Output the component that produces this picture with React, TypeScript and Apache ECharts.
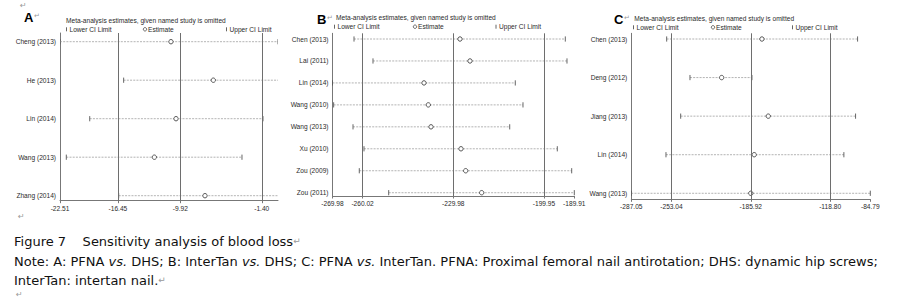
import React, { useEffect, useRef } from "react";
import * as echarts from "echarts";

// ---------- Panel A: PFNA vs. DHS ----------
const studiesA = ["Cheng (2013)", "He (2013)", "Lin (2014)", "Wang (2013)", "Zhang (2014)"];
const lowerA = [-22.51, -15.85, -19.4, -21.85, -16.37];
const estimateA = [-10.9, -6.47, -10.37, -12.64, -7.34];
const upperA = [0.3, 1.6, -1.27, -3.47, 1.4];
const pooledA = [-16.45, -9.92, -1.4]; // lower CI, estimate, upper CI
const ticksA = [-22.51, -16.45, -9.92, -1.4];
const rangeA = [-22.51, 0.3];

// ---------- Panel B: InterTan vs. DHS ----------
const studiesB = ["Chen (2013)", "Lai (2011)", "Lin (2014)", "Wang (2010)", "Wang (2013)", "Xu (2010)", "Zou (2009)", "Zou (2011)"];
const lowerB = [-262.86, -256.57, -269.98, -269.6, -263.19, -259.55, -261.11, -251.37];
const estimateB = [-227.76, -224.45, -239.68, -238.26, -237.36, -227.43, -225.87, -220.58];
const upperB = [-192.89, -192.33, -209.45, -206.9, -211.3, -195.54, -190.77, -189.91];
const pooledB = [-260.02, -229.98, -199.95];
const ticksB = [-269.98, -260.02, -229.98, -199.95, -189.91];
const rangeB = [-269.98, -189.91];

// ---------- Panel C: PFNA vs. InterTan ----------
const studiesC = ["Chen (2013)", "Deng (2012)", "Jiang (2013)", "Lin (2014)", "Wang (2013)"];
const lowerC = [-257.11, -237.4, -245.26, -257.7, -287.05];
const estimateC = [-176.49, -210.58, -171.15, -183.05, -185.92];
const upperC = [-95.55, -184.95, -97.25, -107.15, -84.79];
const pooledC = [-253.04, -185.92, -118.8];
const ticksC = [-287.05, -253.04, -185.92, -118.8, -84.79];
const rangeC = [-287.05, -84.79];

const panelTitle = "Meta-analysis estimates, given named study is omitted";
const legendLabels = ["Lower CI Limit", "Estimate", "Upper CI Limit"];
const captionTitle = "Figure 7    Sensitivity analysis of blood loss";
const captionNote =
  "Note: A: PFNA {i|vs.} DHS; B: InterTan {i|vs.} DHS; C: PFNA {i|vs.} InterTan. PFNA: Proximal femoral nail antirotation; DHS: dynamic hip screws;";
const captionNote2 = "InterTan: intertan nail.";
const MARK = "\u21b5";

const FONT = "'Liberation Sans', Arial, Helvetica, sans-serif";
const INK = "#2a2a2a";

const panels = [
  {
    letter: "A", studies: studiesA, lower: lowerA, est: estimateA, upper: upperA,
    pooled: pooledA, ticks: ticksA, range: rangeA,
    grid: { left: 60, top: 33, width: 218, height: 167.7 }, yPad: [-0.226, 4.13],
    head: { lx: 24, ly: 17.5, tx: 66, ty: 20.7, gy: 29.3, g: [66.5, 145, 226.5] },
  },
  {
    letter: "B", studies: studiesB, lower: lowerB, est: estimateB, upper: upperB,
    pooled: pooledB, ticks: ticksB, range: rangeB,
    grid: { left: 332.5, top: 33.3, width: 241.8, height: 162.7 }, yPad: [-0.26, 7.15],
    head: { lx: 317, ly: 19.3, tx: 336, ty: 17.3, gy: 26.7, g: [334.5, 415, 496] },
  },
  {
    letter: "C", studies: studiesC, lower: lowerC, est: estimateC, upper: upperC,
    pooled: pooledC, ticks: ticksC, range: rangeC,
    grid: { left: 631.3, top: 33.3, width: 239, height: 166 }, yPad: [-0.148, 4.156],
    head: { lx: 614, ly: 19.3, tx: 634.3, ty: 18.3, gy: 27.3, g: [633.5, 713, 792.5] },
  },
];

const renderForest = (_params: any, api: any) => {
  const y = api.value(0);
  const lo = api.coord([api.value(1), y]);
  const es = api.coord([api.value(2), y]);
  const hi = api.coord([api.value(3), y]);
  const h = 2.6;
  return {
    type: "group",
    children: [
      { type: "line", shape: { x1: lo[0], y1: lo[1], x2: hi[0], y2: hi[1] }, style: { stroke: "#a0a0a0", lineWidth: 0.8, lineDash: [2, 1.2] } },
      { type: "line", shape: { x1: lo[0], y1: lo[1] - h, x2: lo[0], y2: lo[1] + h }, style: { stroke: "#555", lineWidth: 0.9 } },
      { type: "line", shape: { x1: hi[0], y1: hi[1] - h, x2: hi[0], y2: hi[1] + h }, style: { stroke: "#555", lineWidth: 0.9 } },
      { type: "circle", shape: { cx: es[0], cy: es[1], r: 2.2 }, style: { fill: "#fff", stroke: "#444", lineWidth: 0.9 } },
    ],
  };
};

function headerGraphics(p: any) {
  const h = p.head;
  const small = { fill: INK, font: `6.6px ${FONT}`, textVerticalAlign: "middle" };
  const els: any[] = [
    { type: "text", x: h.lx, y: h.ly, style: { text: p.letter, fill: "#000", font: `bold 13px ${FONT}`, textVerticalAlign: "middle" } },
    { type: "text", x: h.lx + 10, y: h.ly - 1.5, style: { text: MARK, fill: "#999", font: `7px 'DejaVu Sans', sans-serif`, textVerticalAlign: "middle" } },
    { type: "text", x: h.tx, y: h.ty, style: { ...small, text: panelTitle } },
    { type: "line", shape: { x1: h.g[0], y1: h.gy - 2, x2: h.g[0], y2: h.gy + 2 }, style: { stroke: "#555", lineWidth: 0.9 } },
    { type: "text", x: h.g[0] + 3, y: h.gy, style: { ...small, text: legendLabels[0] } },
    { type: "circle", shape: { cx: h.g[1], cy: h.gy, r: 1.7 }, style: { fill: "#fff", stroke: "#444", lineWidth: 0.8 } },
    { type: "text", x: h.g[1] + 3, y: h.gy, style: { ...small, text: legendLabels[1] } },
    { type: "line", shape: { x1: h.g[2], y1: h.gy - 2, x2: h.g[2], y2: h.gy + 2 }, style: { stroke: "#555", lineWidth: 0.9 } },
    { type: "text", x: h.g[2] + 3, y: h.gy, style: { ...small, text: legendLabels[2] } },
  ];
  return els;
}

export default function App() {
  const ref = useRef<HTMLDivElement>(null);
  useEffect(() => {
    if (!ref.current) return;
    const chart = echarts.init(ref.current, undefined, { renderer: "svg" });
    const capFont = `13px 'DejaVu Sans', sans-serif`;
    const markStyle = { fill: "#999", font: `8px 'DejaVu Sans', sans-serif` };
    const option: any = {
      animation: false,
      backgroundColor: "#fff",
      grid: panels.map((p) => ({ ...p.grid, containLabel: false })),
      xAxis: panels.map((p, i) => ({
        type: "value",
        gridIndex: i,
        position: "bottom",
        min: p.range[0],
        max: p.range[1],
        axisLine: { show: true, onZero: false, lineStyle: { color: "#777", width: 1 } },
        axisTick: { show: true, customValues: p.ticks, length: 2.5, lineStyle: { color: "#777" } },
        axisLabel: { customValues: p.ticks, formatter: (v: number) => v.toFixed(2), fontSize: 6.6, color: INK, fontFamily: FONT, margin: 4, hideOverlap: false },
        splitLine: { show: false },
      })),
      yAxis: panels.map((p, i) => ({
        type: "value",
        gridIndex: i,
        position: "left",
        inverse: true,
        min: p.yPad[0],
        max: p.yPad[1],
        axisLine: { show: true, onZero: false, lineStyle: { color: "#777", width: 1 } },
        axisTick: { show: false },
        axisLabel: {
          customValues: p.studies.map((_: string, k: number) => k),
          formatter: (v: number) => p.studies[Math.round(v)] ?? "",
          fontSize: 6.6,
          color: INK,
          fontFamily: FONT,
          margin: 4,
        },
        splitLine: { show: false },
      })),
      series: panels.map((p, i) => ({
        type: "custom",
        name: p.letter,
        xAxisIndex: i,
        yAxisIndex: i,
        clip: true,
        renderItem: renderForest,
        encode: { x: [1, 2, 3], y: 0 },
        data: p.studies.map((_: string, k: number) => [k, p.lower[k], p.est[k], p.upper[k]]),
        markLine: {
          silent: true,
          symbol: ["none", "none"],
          label: { show: false },
          lineStyle: { color: "#6e6e6e", type: "solid", width: 1 },
          data: p.pooled.map((v: number) => ({ xAxis: v })),
        },
        z: 2,
      })),
      graphic: [
        { type: "text", x: 20, y: 5, style: { ...markStyle, text: MARK, textVerticalAlign: "middle" } },
        ...panels.flatMap((p) => headerGraphics(p)),
        { type: "text", x: 18, y: 216, style: { ...markStyle, text: MARK, textVerticalAlign: "middle" } },
        {
          type: "text", x: 14, y: 241,
          style: { text: captionTitle + "{m|" + MARK + "}", fill: "#111", font: capFont, textVerticalAlign: "middle", rich: { m: { fill: "#999", font: `9px 'DejaVu Sans', sans-serif` } } },
        },
        {
          type: "text", x: 14, y: 261.5,
          style: { text: captionNote, fill: "#111", font: capFont, textVerticalAlign: "middle", rich: { i: { fill: "#111", font: `italic 13px 'DejaVu Sans', sans-serif` } } },
        },
        {
          type: "text", x: 14, y: 280,
          style: { text: captionNote2 + "{m|" + MARK + "}", fill: "#111", font: capFont, textVerticalAlign: "middle", rich: { m: { fill: "#999", font: `9px 'DejaVu Sans', sans-serif` } } },
        },
        { type: "text", x: 16, y: 294, style: { ...markStyle, text: MARK, textVerticalAlign: "middle" } },
      ],
    };
    chart.setOption(option);
    return () => chart.dispose();
  }, []);
  return (
    <div
      ref={ref}
      style={{ position: "fixed", left: 0, top: 0, width: 905, height: 300, background: "#fff" }}
    />
  );
}
